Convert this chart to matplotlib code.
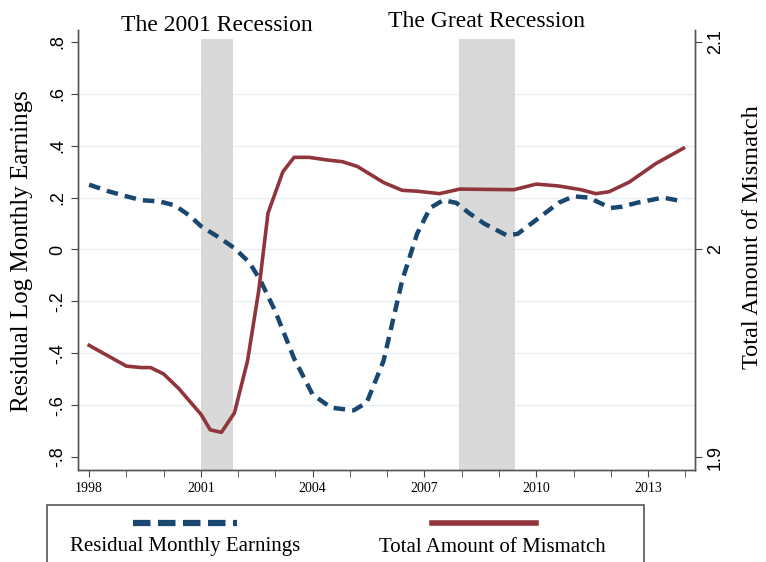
import matplotlib
matplotlib.use("Agg")
import matplotlib.pyplot as plt
from matplotlib.lines import Line2D
from matplotlib.patches import Rectangle
from matplotlib.ticker import FuncFormatter
from matplotlib.transforms import blended_transform_factory

# residual log monthly earnings (left axis)
earn_years = [1998.0, 1998.5, 1999.0, 1999.4, 1999.9, 2000.3, 2000.7, 2001.0,
              2001.5, 2001.9, 2002.3, 2002.6, 2003.0, 2003.5, 2004.0, 2004.5,
              2005.1, 2005.45, 2005.9, 2006.4, 2006.8, 2007.15, 2007.5, 2007.85,
              2008.2, 2008.6, 2009.2, 2009.5, 2010.1, 2010.6, 2011.0, 2011.4,
              2012.0, 2012.3, 2012.7, 2013.4, 2013.95]
earnings = [0.25, 0.225, 0.205, 0.19, 0.185, 0.17, 0.13, 0.09,
            0.045, 0.005, -0.05, -0.12, -0.24, -0.42, -0.56, -0.61,
            -0.62, -0.59, -0.43, -0.12, 0.06, 0.16, 0.19, 0.18,
            0.14, 0.10, 0.055, 0.06, 0.125, 0.18, 0.205, 0.20,
            0.16, 0.165, 0.18, 0.20, 0.185]

# total amount of mismatch (right axis)
mis_years = [1998.0, 1998.5, 1999.0, 1999.4, 1999.65, 2000.0, 2000.4, 2001.0,
             2001.25, 2001.55, 2001.9, 2002.25, 2002.55, 2002.8, 2003.2, 2003.5,
             2003.9, 2004.4, 2004.8, 2005.2, 2005.6, 2005.9, 2006.4, 2006.8,
             2007.4, 2007.95, 2009.4, 2010.0, 2010.6, 2011.2, 2011.6, 2011.95,
             2012.5, 2013.2, 2013.95]
mismatch = [1.9538, 1.9488, 1.9438, 1.9431, 1.9431, 1.9400, 1.9331, 1.9206,
            1.9131, 1.9119, 1.9213, 1.9463, 1.9800, 2.0175, 2.0375, 2.0444,
            2.0444, 2.0431, 2.0423, 2.0400, 2.0356, 2.0323, 2.0285, 2.0281,
            2.0269, 2.0291, 2.0288, 2.0315, 2.0306, 2.0288, 2.0269, 2.0278,
            2.0325, 2.0413, 2.0488]

recessions = [(2001.0, 2001.87), (2007.92, 2009.42)]
rec_labels = ["The 2001 Recession", "The Great Recession"]

left_ticks = [-0.8, -0.6, -0.4, -0.2, 0, 0.2, 0.4, 0.6, 0.8]
right_ticks = [1.9, 2.0, 2.1]
xticks = [1998, 2001, 2004, 2007, 2010, 2013]

BLUE = "#1a476f"
RED = "#90353b"
SERIF = "Liberation Serif"
SANS = "Liberation Sans"

W, H = 766, 562
fig = plt.figure(figsize=(7.66, 5.62), dpi=100)
ax = fig.add_axes([0.1018, 0.1637, 0.8055, 0.7829])
ylo, yhi = -0.85, 0.846
ax.set_xlim(1997.7, 2014.26)
ax.set_ylim(ylo, yhi)

for g in [-0.6, -0.4, -0.2, 0, 0.2, 0.4, 0.6]:
    ax.axhline(g, color="#e6eff1", lw=1.0, zorder=0)

for a, b in recessions:
    ax.fill_between([a, b], ylo, 0.81, color="#d9d9d9", lw=0, zorder=1)

ax.plot(earn_years, earnings, color=BLUE, lw=3.2, ls=(0, (2.6, 1.6)), zorder=3)

ax2 = ax.twinx()
ax2.set_ylim(2 + ylo / 8, 2 + yhi / 8)
ax2.plot(mis_years, mismatch, color=RED, lw=2.6, zorder=3)

fmt = FuncFormatter(lambda v, p: ("%g" % round(v, 2)).replace("0.", "."))
ax.set_yticks(left_ticks)
ax.yaxis.set_major_formatter(fmt)
ax2.set_yticks(right_ticks)
ax2.set_yticklabels(["1.9", "2", "2.1"])

ax.set_xticks(xticks)
ax.set_xticks(range(1998, 2015), minor=True)
ax.tick_params(axis="x", which="both", length=5, color="#444444", direction="out")
ax.tick_params(axis="y", length=5, color="#444444")
ax2.tick_params(axis="y", length=5, color="#444444")

for lab in ax.get_xticklabels():
    lab.set_fontfamily(SERIF)
    lab.set_fontsize(10)
for lab in ax.get_yticklabels() + ax2.get_yticklabels():
    lab.set_fontfamily(SANS)
    lab.set_fontsize(13)
    lab.set_rotation(90)
    lab.set_va("center")

for s in (ax, ax2):
    s.spines["top"].set_visible(False)
    for k in ("left", "right", "bottom"):
        s.spines[k].set_color("#555555")
        s.spines[k].set_linewidth(1.0)

# axis titles
fig.text(22 / W, 1 - 251 / H, "Residual Log Monthly Earnings", rotation=90,
         ha="center", va="center", family=SERIF, fontsize=18)
fig.text(753 / W, 1 - 237 / H, "Total Amount of Mismatch", rotation=90,
         ha="center", va="center", family=SERIF, fontsize=17.5)

tr = blended_transform_factory(ax.transData, fig.transFigure)
for (a, b), t, base in zip(recessions, rec_labels, [31, 27]):
    ax.text((a + b) / 2, 1 - base / H, t, transform=tr,
            ha="center", va="baseline", family=SERIF, fontsize=17)

# legend box in Stata style (key above label)
fig.add_artist(Rectangle((47 / W, -0.05), (644 - 47) / W, (562 - 505) / H + 0.05,
                         transform=fig.transFigure, fill=False,
                         edgecolor="#555555", lw=1.2))
fig.add_artist(Line2D([133 / W, 237 / W], [1 - 523 / H] * 2, color=BLUE, lw=4.5,
                      ls=(0, (2.8, 1.2)), transform=fig.transFigure))
fig.add_artist(Line2D([432 / W, 536 / W], [1 - 523 / H] * 2, color=RED, lw=4,
                      transform=fig.transFigure))
fig.text(185 / W, 1 - 547 / H, "Residual Monthly Earnings", ha="center", va="center",
         family=SERIF, fontsize=15)
fig.text(492 / W, 1 - 547 / H, "Total Amount of Mismatch", ha="center", va="center",
         family=SERIF, fontsize=15)

fig.savefig("out.png", dpi=100)
